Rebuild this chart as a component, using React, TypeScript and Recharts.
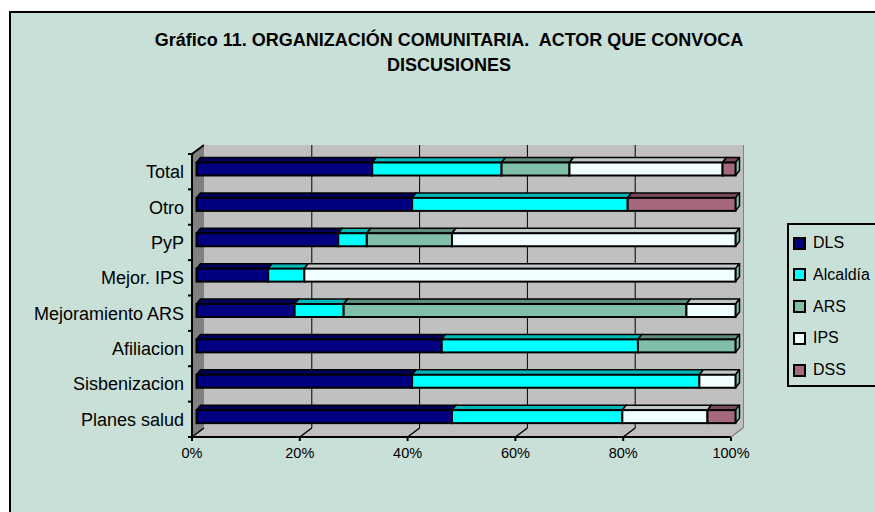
import React from "react";
import { BarChart, Bar, XAxis, YAxis, CartesianGrid } from "recharts";

const categories = ["Total", "Otro", "PyP", "Mejor. IPS", "Mejoramiento ARS", "Afiliacion", "Sisbenizacion", "Planes salud"];
const dls = [32.6, 40.0, 26.3, 13.3, 18.2, 45.5, 40.0, 47.4];
const alcaldia = [24.0, 40.0, 5.3, 6.7, 9.1, 36.4, 53.3, 31.6];
const ars = [12.6, 0, 15.8, 0, 63.6, 18.1, 0, 0];
const ips = [28.4, 0, 52.6, 80.0, 9.1, 0, 6.7, 15.8];
const dss = [2.4, 20.0, 0, 0, 0, 0, 0, 5.2];
const xTicks = [0, 20, 40, 60, 80, 100];

const series = [
  { key: "dls", name: "DLS", fill: "#000080", top: "#00005a" },
  { key: "alcaldia", name: "Alcaldía", fill: "#00ffff", top: "#00b8b8" },
  { key: "ars", name: "ARS", fill: "#80c0a8", top: "#5c8c7a" },
  { key: "ips", name: "IPS", fill: "#f0ffff", top: "#c0c8c8" },
  { key: "dss", name: "DSS", fill: "#a6687e", top: "#7a4a5c" },
];

const data = categories.map((name, i) => ({
  name,
  dls: dls[i],
  alcaldia: alcaldia[i],
  ars: ars[i],
  ips: ips[i],
  dss: dss[i],
}));

// plot frame (front face of the 3d box) and depth
const W = 875;
const H = 512;
const PL = 192;
const PR = 731;
const PT = 154;
const PB = 437;
const DX = 12;
const DY = 9;
const BAND = (PB - PT) / categories.length;
const FONT = "'Liberation Sans', Arial, sans-serif";

const Bar3D = (props: any) => {
  const { x, y, width, height, fill, top } = props;
  if (!width || width <= 0) return null;
  const X = x + 4.5;
  const Y = y - 2.5;
  const d = 4;
  const e = 5;
  return (
    <g>
      <polygon
        points={`${X},${Y} ${X + d},${Y - e} ${X + width + d},${Y - e} ${X + width},${Y}`}
        fill={top}
        stroke="#000"
        strokeWidth={1.5}
        strokeLinejoin="round"
      />
      <polygon
        points={`${X + width},${Y} ${X + width + d},${Y - e} ${X + width + d},${Y + height - e} ${X + width},${Y + height}`}
        fill="#80c0a0"
        stroke="#000"
        strokeWidth={1.5}
        strokeLinejoin="round"
      />
      <rect x={X} y={Y} width={width} height={height} fill={fill} stroke="#000" strokeWidth={2} />
    </g>
  );
};

const CategoryTick = (props: any) => {
  const { y, payload, index } = props;
  return (
    <g>
      <line x1={PL - 4} x2={PL} y1={y - BAND / 2} y2={y - BAND / 2} stroke="#000" strokeWidth={2} />
      {index === categories.length - 1 && (
        <line x1={PL - 4} x2={PL} y1={y + BAND / 2} y2={y + BAND / 2} stroke="#000" strokeWidth={2} />
      )}
      <text x={PL - 8} y={y} dy="0.36em" textAnchor="end" fontSize={18} fontFamily={FONT} fill="#000">
        {payload.value}
      </text>
    </g>
  );
};

const PercentTick = (props: any) => {
  const { x, payload } = props;
  return (
    <g>
      <line x1={x} x2={x} y1={PB} y2={PB + 4} stroke="#000" strokeWidth={2} />
      <line
        x1={x}
        y1={PB}
        x2={x + DX}
        y2={PB - DY}
        stroke={payload.value === 100 ? "#808080" : "#000"}
        strokeWidth={1.5}
      />
      <text x={x} y={PB + 16} dy="0.36em" textAnchor="middle" fontSize={14.5} fontFamily={FONT} fill="#000">
        {payload.value}%
      </text>
    </g>
  );
};

// back-wall gridlines: the x scale shifted by the depth of the box
const backWallLines = ({ xAxis, offset }: any) => {
  const s = xAxis && xAxis.scale;
  const toX = (t: number) => {
    if (typeof s === "function") return s(t);
    if (s && typeof s.map === "function") return s.map(t);
    return offset.left + (t / 100) * offset.width;
  };
  return xTicks.filter((t) => t > 0 && t < 100).map((t) => toX(t) + DX);
};

export default function App() {
  return (
    <div style={{ position: "absolute", left: 0, top: 0, width: W, height: H, overflow: "hidden", background: "#fff" }}>
      <div
        style={{
          position: "absolute",
          left: 9,
          top: 11,
          width: 900,
          height: 540,
          borderLeft: "2px solid #000",
          borderTop: "2px solid #000",
          background: "#c9e0d8",
        }}
      />
      <svg width={W} height={H} style={{ position: "absolute", left: 0, top: 0 }}>
        <polygon points={`${PL},${PT} ${PL + DX},${PT - DY} ${PL + DX},${PB - DY} ${PL},${PB}`} fill="#808080" />
        <polygon points={`${PL},${PB} ${PL + DX},${PB - DY} ${PR + DX},${PB - DY} ${PR},${PB}`} fill="#c0c0c0" />
        <line x1={PL} y1={PT} x2={PL + DX} y2={PT - DY} stroke="#000" strokeWidth={2} />
        <line x1={PR + DX} y1={PT - DY} x2={PR + DX} y2={PB - DY} stroke="#808080" strokeWidth={2} />
      </svg>
      <div
        style={{
          position: "absolute",
          left: 0,
          top: 28,
          width: 898,
          textAlign: "center",
          fontFamily: FONT,
          fontWeight: "bold",
          fontSize: 18,
          lineHeight: "25px",
          color: "#000",
          whiteSpace: "pre",
        }}
      >
        {"Gráfico 11. ORGANIZACIÓN COMUNITARIA.  ACTOR QUE CONVOCA"}
        <br />
        {"DISCUSIONES"}
      </div>
      <div style={{ position: "absolute", left: 0, top: 0 }}>
        <BarChart
          width={W}
          height={H}
          data={data}
          layout="vertical"
          barSize={13}
          margin={{ top: PT, right: W - PR, bottom: H - PB - 30, left: 0 }}
        >
          <CartesianGrid
            x={PL + DX}
            y={PT - DY}
            width={PR - PL}
            height={PB - PT}
            fill="#c0c0c0"
            fillOpacity={1}
            stroke="#000"
            strokeWidth={1}
            horizontal={false}
            verticalCoordinatesGenerator={backWallLines}
          />
          <XAxis
            type="number"
            domain={[0, 100]}
            ticks={xTicks}
            height={30}
            interval={0}
            axisLine={{ stroke: "#000", strokeWidth: 2 }}
            tickLine={false}
            tick={<PercentTick />}
          />
          <YAxis
            type="category"
            dataKey="name"
            width={PL}
            interval={0}
            axisLine={{ stroke: "#000", strokeWidth: 2 }}
            tickLine={false}
            tick={<CategoryTick />}
          />
          {series.map((s) => (
            <Bar
              key={s.key}
              dataKey={s.key}
              name={s.name}
              stackId="a"
              fill={s.fill}
              isAnimationActive={false}
              shape={(p: any) => <Bar3D {...p} fill={s.fill} top={s.top} />}
            />
          ))}
        </BarChart>
      </div>
      <div
        style={{
          position: "absolute",
          left: 787,
          top: 223,
          width: 120,
          height: 160,
          border: "2px solid #000",
          background: "#c9e0d8",
          fontFamily: FONT,
          fontSize: 16,
        }}
      >
        {series.map((s, i) => (
          <div
            key={s.key}
            style={{ position: "absolute", left: 4, top: 11 + i * 31.75, height: 14, display: "flex", alignItems: "center" }}
          >
            <span
              style={{
                display: "inline-block",
                width: 9,
                height: 9,
                border: "2px solid #000",
                background: s.fill,
              }}
            />
            <span style={{ marginLeft: 7, lineHeight: "14px" }}>{s.name}</span>
          </div>
        ))}
      </div>
    </div>
  );
}
